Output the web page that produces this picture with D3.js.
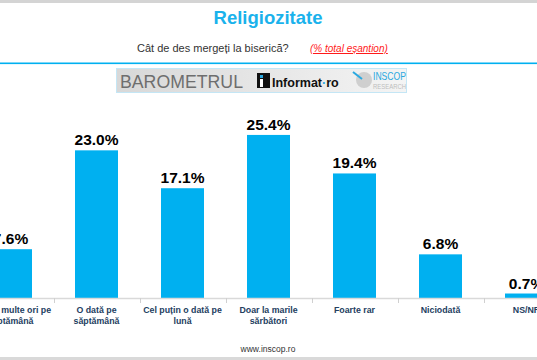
<!DOCTYPE html>
<html>
<head>
<meta charset="utf-8">
<script src="https://cdn.jsdelivr.net/npm/d3@7"></script>
<style>
html,body{margin:0;padding:0;background:#fff;}
svg{display:block;font-family:"Liberation Sans",Arial,sans-serif;}
</style>
</head>
<body>
<svg id="chart" width="537" height="360"></svg>
<script>
const categories = [
  "De mai multe ori pe\nsăptămână",
  "O dată pe\nsăptămână",
  "Cel puțin o dată pe\nlună",
  "Doar la marile\nsărbători",
  "Foarte rar",
  "Niciodată",
  "NS/NR"
];
const values = [7.6, 23.0, 17.1, 25.4, 19.4, 6.8, 0.7];
const valueLabels = ["7.6%", "23.0%", "17.1%", "25.4%", "19.4%", "6.8%", "0.7%"];
const titleText = "Religiozitate";
const questionText = "Cât de des mergeți la biserică?";
const noteText = "(% total eșantion)";
const footerText = "www.inscop.ro";

const W = 537, H = 360;
const svg = d3.select("#chart");
const BLUE = "#00b0f0";

// frame bands
svg.append("rect").attr("x",0).attr("y",0).attr("width",W).attr("height",3).attr("fill","#d4d4d4");
svg.append("rect").attr("x",0).attr("y",357).attr("width",W).attr("height",3).attr("fill","#d9d9d9");

// title
svg.append("text").attr("x",268).attr("y",24).attr("text-anchor","middle")
  .attr("font-size",18.5).attr("font-weight","bold").attr("fill","#1ab2ec").text(titleText);

// subtitle
const sub = svg.append("text").attr("x",137).attr("y",52).attr("font-size",11).attr("fill","#333");
sub.append("tspan").text(questionText);
svg.append("text").attr("x",310).attr("y",52).attr("font-size",10).attr("font-style","italic")
  .attr("fill","#ff1a1a").attr("text-decoration","underline").text(noteText);

// blue rule
svg.append("rect").attr("x",0).attr("y",62.5).attr("width",W).attr("height",1.6).attr("fill",BLUE);

// logo banner
const defs = svg.append("defs");
const g1 = defs.append("linearGradient").attr("id","lg").attr("x1","0").attr("x2","1").attr("y1","0").attr("y2","0");
g1.append("stop").attr("offset","0").attr("stop-color","#d8d8d8");
g1.append("stop").attr("offset","1").attr("stop-color","#f4f4f4");
const logo = svg.append("g");
logo.append("rect").attr("x",116.5).attr("y",68.5).attr("width",290).attr("height",24)
  .attr("fill","url(#lg)").attr("stroke","#c4e6f5").attr("stroke-width",1);
logo.append("text").attr("x",120).attr("y",88).attr("font-size",18).attr("fill","#6e6e6e")
  .attr("textLength",123).attr("lengthAdjust","spacingAndGlyphs").text("BAROMETRUL");
logo.append("rect").attr("x",257).attr("y",73).attr("width",13).attr("height",15).attr("fill","#111");
logo.append("rect").attr("x",260).attr("y",75).attr("width",3).attr("height",3).attr("fill","#2aa8e0");
logo.append("rect").attr("x",260).attr("y",79).attr("width",3).attr("height",8).attr("fill","#fff");
const inf = logo.append("text").attr("x",272).attr("y",87).attr("font-size",12.5).attr("font-weight","bold").attr("fill","#111");
inf.append("tspan").text("Informat");
inf.append("tspan").attr("fill","#2aa8e0").text("·");
inf.append("tspan").text("ro");
logo.append("circle").attr("cx",364).attr("cy",80).attr("r",8).attr("fill","#cfcfcf");
logo.append("line").attr("x1",353).attr("y1",72).attr("x2",362).attr("y2",79).attr("stroke","#2aa8e0").attr("stroke-width",2);
logo.append("text").attr("x",373).attr("y",80).attr("font-size",11).attr("fill","#2aa8e0")
  .attr("textLength",33).attr("lengthAdjust","spacingAndGlyphs").text("INSCOP");
logo.append("text").attr("x",373).attr("y",88.5).attr("font-size",8).attr("fill","#bdbdbd")
  .attr("textLength",33).attr("lengthAdjust","spacingAndGlyphs").text("RESEARCH");

// scales
const x = d3.scaleBand().domain(categories).range([-32.5, 569.5]).paddingInner(0.5).paddingOuter(0.25);
const y = d3.scaleLinear().domain([0, 30]).range([298, 298 - 30 * 6.42]);

// bars
svg.append("g").selectAll("rect").data(values).join("rect")
  .attr("x",(d,i)=>x(categories[i])).attr("y",d=>y(d))
  .attr("width",x.bandwidth()).attr("height",d=>y(0)-y(d)).attr("fill",BLUE);

// value labels
svg.append("g").selectAll("text").data(values).join("text")
  .attr("x",(d,i)=>x(categories[i])+x.bandwidth()/2).attr("y",d=>y(d)-5)
  .attr("text-anchor","middle").attr("font-size",15.5).attr("font-weight","bold").attr("fill","#000")
  .text((d,i)=>valueLabels[i]);

// axis line and ticks
svg.append("line").attr("x1",0).attr("x2",W).attr("y1",298.5).attr("y2",298.5).attr("stroke","#d9d9d9").attr("stroke-width",1.3);
const step = x.step();
svg.append("g").selectAll("line").data(categories.slice(0,-1)).join("line")
  .attr("x1",d=>Math.round(x(d)+x.bandwidth()/2+step/2)+0.5)
  .attr("x2",d=>Math.round(x(d)+x.bandwidth()/2+step/2)+0.5)
  .attr("y1",298).attr("y2",303).attr("stroke","#d0d0d0").attr("stroke-width",1);

// category labels
const cl = svg.append("g").selectAll("text").data(categories).join("text")
  .attr("text-anchor","middle").attr("font-size",8.8).attr("font-weight","bold").attr("fill","#23405f")
  .attr("x",d=>x(d)+x.bandwidth()/2).attr("y",313);
cl.each(function(d){
  const t = d3.select(this);
  d.split("\n").forEach((line,k)=>{
    t.append("tspan").attr("x",x(d)+x.bandwidth()/2).attr("dy",k===0?0:10.5).text(line);
  });
});

// footer
svg.append("text").attr("x",268).attr("y",352).attr("text-anchor","middle").attr("font-size",8.5)
  .attr("fill","#333").text(footerText);
</script>
</body>
</html>
